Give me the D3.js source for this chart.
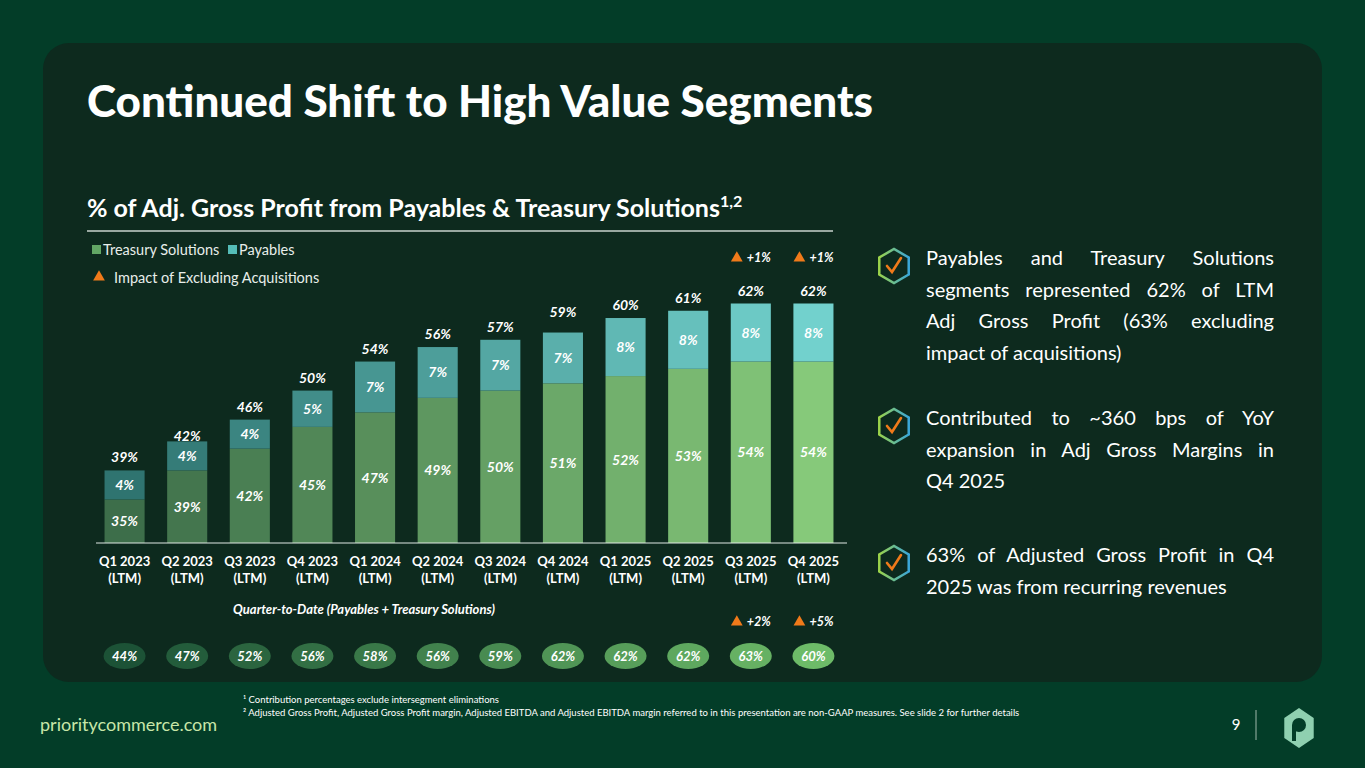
<!DOCTYPE html>
<html><head><meta charset="utf-8">
<script src="https://cdn.jsdelivr.net/npm/d3@7/dist/d3.min.js"></script>
<style>body{margin:0;background:#033d28;}svg{display:block}</style>
</head><body>
<script>
const categories=["Q1 2023","Q2 2023","Q3 2023","Q4 2023","Q1 2024","Q2 2024","Q3 2024","Q4 2024","Q1 2025","Q2 2025","Q3 2025","Q4 2025"];
const treasury=[35,39,42,45,47,49,50,51,52,53,54,54];
const payables=[4,4,4,5,7,7,7,7,8,8,8,8];
const totals=[39,42,46,50,54,56,57,59,60,61,62,62];
const qtd=[44,47,52,56,58,56,59,62,62,62,63,60];
const ltmImpact=[null,null,null,null,null,null,null,null,null,null,"+1%","+1%"];
const qtdImpact=[null,null,null,null,null,null,null,null,null,null,"+2%","+5%"];
const bullets=[
 ["Payables and Treasury Solutions","segments represented 62% of LTM","Adj Gross Profit (63% excluding","impact of acquisitions)"],
 ["Contributed to ~360 bps of YoY","expansion in Adj Gross Margins in","Q4 2025"],
 ["63% of Adjusted Gross Profit in Q4","2025 was from recurring revenues"]];

const W=1365,H=768,F="Lato, 'Open Sans', sans-serif";
const svg=d3.select("body").append("svg").attr("width",W).attr("height",H);
svg.append("rect").attr("width",W).attr("height",H).attr("fill","#033d28");
svg.append("rect").attr("x",43).attr("y",43).attr("width",1279).attr("height",639).attr("rx",26).attr("fill","#0d2a1e");
svg.append("text").attr("x",87).attr("y",117).text("Continued Shift to High Value Segments")
 .attr("fill","#fff").attr("font-family",F).attr("font-weight",900).attr("font-size",44);
svg.append("text").attr("x",87).attr("y",217).attr("fill","#fff").attr("font-family",F).attr("font-weight",700).attr("font-size",25)
 .text("% of Adj. Gross Profit from Payables & Treasury Solutions").append("tspan").attr("dy",-10).attr("font-size",16).text("1,2");
svg.append("line").attr("x1",87).attr("x2",833).attr("y1",231).attr("y2",231).attr("stroke","#c8d3ce").attr("stroke-width",1.5);

const x=d3.scaleBand().domain(categories).range([92,846]).paddingInner(0.36).paddingOuter(0.2);
const y=d3.scaleLinear().domain([29,62]).range([543,303.5]);
const gT=d3.scaleLinear().domain([0,11]).range(["#3d6e4a","#86c97a"]);
const gP=d3.scaleLinear().domain([0,11]).range(["#2f7470","#72d1cd"]);
const gC=d3.scaleLinear().domain([0,11]).range(["#1c5236","#6dbb68"]);
const g=svg.append("g");
categories.forEach((c,i)=>{
 const bx=x(c),bw=x.bandwidth(),cx=bx+bw/2;
 g.append("rect").attr("x",bx).attr("width",bw).attr("y",y(treasury[i])).attr("height",y(29)-y(treasury[i])).attr("fill",gT(i));
 g.append("rect").attr("x",bx).attr("width",bw).attr("y",y(treasury[i]+payables[i])).attr("height",y(treasury[i])-y(treasury[i]+payables[i])).attr("fill",gP(i));
 const t=(tx,ty,s,sz,wt,st)=>g.append("text").attr("x",tx).attr("y",ty).attr("text-anchor","middle").attr("fill","#fff")
   .attr("font-family",F).attr("font-size",sz||14).attr("font-weight",wt||700).attr("font-style",st||"italic").text(s);
 t(cx,(y(treasury[i])+y(29))/2+5,treasury[i]+"%");
 t(cx,(y(treasury[i]+payables[i])+y(treasury[i]))/2+5,payables[i]+"%");
 t(cx,y(totals[i])-8,totals[i]+"%");
 t(cx,566,c,13,700,"normal"); t(cx,583,"(LTM)",13,700,"normal");
 g.append("ellipse").attr("cx",cx).attr("cy",656).attr("rx",21).attr("ry",13).attr("fill",gC(i));
 t(cx,661,qtd[i]+"%",13);
 [[ltmImpact,258],[qtdImpact,622]].forEach(([arr,yy])=>{ if(arr[i]){
   g.append("path").attr("d",d3.symbol(d3.symbolTriangle,60)()).attr("transform",`translate(${cx-14},${yy})`).attr("fill","#f07a1a");
   t(cx+8,yy+4,arr[i],12.5);}});
});
svg.append("line").attr("x1",96).attr("x2",847).attr("y1",543).attr("y2",543).attr("stroke","#e0e8e4").attr("stroke-width",1);
svg.append("text").attr("x",364).attr("y",614).attr("text-anchor","middle").attr("fill","#fff").attr("font-family",F).attr("font-size",13)
 .attr("font-weight",700).attr("font-style","italic").text("Quarter-to-Date (Payables + Treasury Solutions)");
// legend
const lg=svg.append("g").attr("font-family",F).attr("font-size",14.5).attr("fill","#e8eeea");
lg.append("rect").attr("x",92).attr("y",245).attr("width",9).attr("height",9).attr("fill","#62a665");
lg.append("text").attr("x",103).attr("y",255).text("Treasury Solutions");
lg.append("rect").attr("x",228).attr("y",245).attr("width",9).attr("height",9).attr("fill","#55bdb8");
lg.append("text").attr("x",239).attr("y",255).text("Payables");
lg.append("path").attr("d",d3.symbol(d3.symbolTriangle,60)()).attr("transform","translate(99,277)").attr("fill","#f07a1a");
lg.append("text").attr("x",114).attr("y",283).text("Impact of Excluding Acquisitions");
// bullets
const by=[258,418,555];
bullets.forEach((lines,k)=>{
 const hx=894,hy=by[k]+8;
 const hex=d3.range(6).map(j=>{const a=Math.PI/3*j+Math.PI/6;return [hx+17*Math.cos(a),hy+17*Math.sin(a)];});
 const grad=svg.append("defs").append("linearGradient").attr("id","hg"+k).attr("x1","0").attr("x2","1");
 grad.append("stop").attr("offset","0").attr("stop-color","#9bd34a");grad.append("stop").attr("offset","1").attr("stop-color","#3aa6d8");
 svg.append("path").attr("d","M"+hex.join("L")+"Z").attr("fill","none").attr("stroke","url(#hg"+k+")").attr("stroke-width",2.5);
 svg.append("path").attr("d",`M${hx-7},${hy} L${hx-2},${hy+6} L${hx+7},${hy-8}`).attr("fill","none").attr("stroke","#f07a1a").attr("stroke-width",2.6).attr("stroke-linecap","round");
 lines.forEach((l,j)=>{
  const tx=svg.append("text").attr("x",926).attr("y",by[k]+7+j*31.5).attr("fill","#fff").attr("font-family",F).attr("font-size",20).text(l);
  if(j<lines.length-1){
   const w=tx.node().getComputedTextLength(), n=l.split(" ").length-1;
   if(n>0) tx.attr("word-spacing",Math.max(0,(348-w)/n));
  }
 });
});
// footer
svg.append("text").attr("x",40).attr("y",731).attr("fill","#c8e6a8").attr("font-family",F).attr("font-size",18).text("prioritycommerce.com");
const fn=svg.append("g").attr("font-family",F).attr("font-size",9.5).attr("fill","#fff");
fn.append("text").attr("x",243).attr("y",703).text("¹ Contribution percentages exclude intersegment eliminations");
fn.append("text").attr("x",243).attr("y",716).text("² Adjusted Gross Profit, Adjusted Gross Profit margin, Adjusted EBITDA and Adjusted EBITDA margin referred to in this presentation are non-GAAP measures. See slide 2 for further details");
svg.append("text").attr("x",1236).attr("y",730).attr("text-anchor","middle").attr("fill","#fff").attr("font-family",F).attr("font-size",15).text("9");
svg.append("line").attr("x1",1256).attr("x2",1256).attr("y1",710).attr("y2",740).attr("stroke","#9fb8aa");
const lx=1299,ly=728;
const lh=d3.range(6).map(j=>{const a=Math.PI/3*j-Math.PI/2;return [lx+17*Math.cos(a),ly+20*Math.sin(a)];});
svg.append("path").attr("d","M"+lh.join("L")+"Z").attr("fill","#8fd0b0");
svg.append("circle").attr("cx",lx).attr("cy",ly-3).attr("r",7).attr("fill","#033d28");
svg.append("rect").attr("x",lx-7).attr("y",ly-3).attr("width",4).attr("height",16).attr("fill","#033d28");
</script></body></html>
